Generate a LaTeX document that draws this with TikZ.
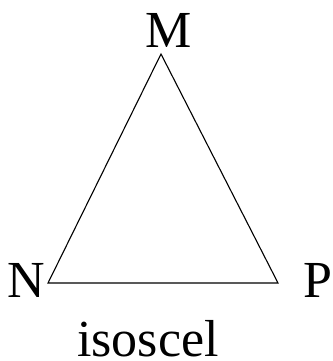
\documentclass[tikz,border=0pt]{standalone}
\usepackage{fontspec}
\setmainfont{Liberation Serif}
\usetikzlibrary{positioning}

\begin{document}
\begin{tikzpicture}[x=1pt, y=-1pt]
				\useasboundingbox (0,0) rectangle (332,361);
				\tikzset{lbl/.style={inner sep=0pt, anchor=base, text depth=0pt, font=\fontsize{52}{60}\selectfont}}
				% sommets
				\coordinate (m) at (161,54);
				\coordinate (n) at (48,283);
				\coordinate (p) at (278,283);
				\draw[line width=1.1pt, line join=miter] (m)--(n)--(p)--cycle;
				% noms des sommets
				\node[lbl] (lm) at (169,48) {M};
				\node[lbl] (ln) at (26.5,297) {N};
				\node[lbl, anchor=base west] (lp) at (303,297) {P};
				\node[lbl] (titre) at (148,356) {isoscel};
		\end{tikzpicture}
\end{document}
